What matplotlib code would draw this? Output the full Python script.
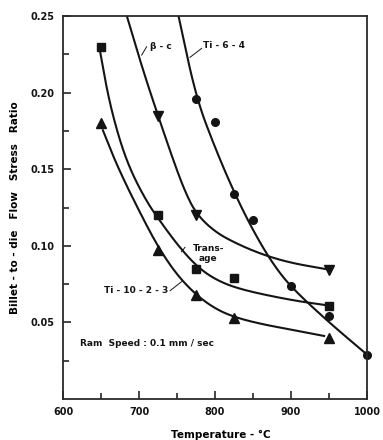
import matplotlib.pyplot as plt
import numpy as np

# measured points (temperature in C, billet-to-die flow stress ratio)
ti64_t = [775, 800, 825, 850, 900, 950, 1000]
ti64_r = [0.196, 0.181, 0.134, 0.117, 0.074, 0.054, 0.029]
beta_t = [725, 775, 950]
beta_r = [0.185, 0.120, 0.084]
trans_t = [650, 725, 775, 825, 950]
trans_r = [0.230, 0.120, 0.085, 0.079, 0.061]
ti1023_t = [650, 725, 775, 825, 950]
ti1023_r = [0.180, 0.097, 0.068, 0.053, 0.040]

# hand drawn trend curves
ti64_ct = [752, 775, 800, 825, 850, 875, 900, 950, 1000]
ti64_cr = [0.250, 0.197, 0.164, 0.135, 0.110, 0.089, 0.073, 0.050, 0.029]
beta_ct = [684, 705, 725, 745, 760, 775, 800, 830, 864, 900, 947]
beta_cr = [0.250, 0.215, 0.185, 0.156, 0.136, 0.121, 0.109, 0.101, 0.094, 0.0888, 0.0847]
trans_ct = [648, 660, 675, 690, 710, 725, 750, 775, 800, 833, 900, 950]
trans_cr = [0.229, 0.196, 0.168, 0.148, 0.129, 0.118, 0.101, 0.087, 0.078, 0.0715, 0.0645, 0.061]
ti1023_ct = [652, 673, 708, 728, 750, 775, 800, 825, 860, 900, 945]
ti1023_cr = [0.176, 0.150, 0.115, 0.097, 0.081, 0.068, 0.059, 0.0535, 0.049, 0.0453, 0.041]


def smooth(xs, ys, rounds=5):
    # chaikin corner cutting, just rounds off the traced polyline
    p = np.column_stack([xs, ys]).astype(float)
    for _ in range(rounds):
        q = 0.75 * p[:-1] + 0.25 * p[1:]
        r = 0.25 * p[:-1] + 0.75 * p[1:]
        mid = np.empty((2 * len(q), 2))
        mid[0::2] = q
        mid[1::2] = r
        p = np.vstack([p[:1], mid, p[-1:]])
    return p[:, 0], p[:, 1]


plt.rcParams['font.family'] = 'DejaVu Sans'
fig = plt.figure(figsize=(3.83, 4.40), dpi=100)
ax = fig.add_axes([0.1645, 0.0932, 0.7937, 0.8704])

ink = '#141414'
for ct, cr in [(ti64_ct, ti64_cr), (beta_ct, beta_cr), (trans_ct, trans_cr), (ti1023_ct, ti1023_cr)]:
    x, y = smooth(ct, cr)
    ax.plot(x, y, color=ink, lw=1.5, solid_capstyle='butt')

ax.plot(ti64_t, ti64_r, 'o', color=ink, ms=5.5, clip_on=False)
ax.plot(beta_t, beta_r, 'v', color=ink, ms=6.5, clip_on=False)
ax.plot(trans_t, trans_r, 's', color=ink, ms=5.5, clip_on=False)
ax.plot(ti1023_t, ti1023_r, '^', color=ink, ms=6.5, clip_on=False)

ax.set_xlim(600, 1000)
ax.set_ylim(0, 0.25)
ax.set_xticks([600, 700, 800, 900, 1000])
ax.set_xticks([650, 750, 850, 950], minor=True)
ax.set_yticks([0.05, 0.10, 0.15, 0.20, 0.25])
ax.set_yticklabels(['0.05', '0.10', '0.15', '0.20', '0.25'])
ax.set_yticks([0.025, 0.075, 0.125, 0.175, 0.225], minor=True)
ax.tick_params(which='both', direction='in', width=1.1, colors=ink, labelsize=7)
ax.tick_params(which='major', length=6, pad=6)
ax.tick_params(which='minor', length=4)
for lab in ax.get_xticklabels() + ax.get_yticklabels():
    lab.set_fontweight('bold')
for s in ax.spines.values():
    s.set_linewidth(1.3)
    s.set_color('#2a2a2a')

ax.set_xlabel('Temperature - °C', fontsize=7.5, fontweight='bold', labelpad=9, x=0.52)
ax.set_ylabel('Billet - to - die   Flow   Stress   Ratio', fontsize=7.5, fontweight='bold', labelpad=8)

tk = dict(fontsize=6.5, fontweight='bold', color=ink, va='center')
ax.text(714, 0.2298, 'β - c', ha='left', **tk)
ax.plot([710, 703.5], [0.2299, 0.2245], color=ink, lw=0.7)
ax.text(784, 0.231, 'Ti - 6 - 4', ha='left', **tk)
ax.plot([782.5, 767], [0.2289, 0.223], color=ink, lw=0.7)
ax.text(791, 0.095, 'Trans-\nage', ha='center', linespacing=1.05, **tk)
ax.plot([760.5, 756], [0.099, 0.0961], color=ink, lw=0.7)
ax.text(738, 0.0711, 'Ti - 10 - 2 - 3', ha='right', **tk)
ax.plot([741, 756], [0.0707, 0.0766], color=ink, lw=0.7)
ax.text(622, 0.0359, 'Ram  Speed : 0.1 mm / sec', ha='left', **tk)

fig.savefig('out.png', dpi=100)
